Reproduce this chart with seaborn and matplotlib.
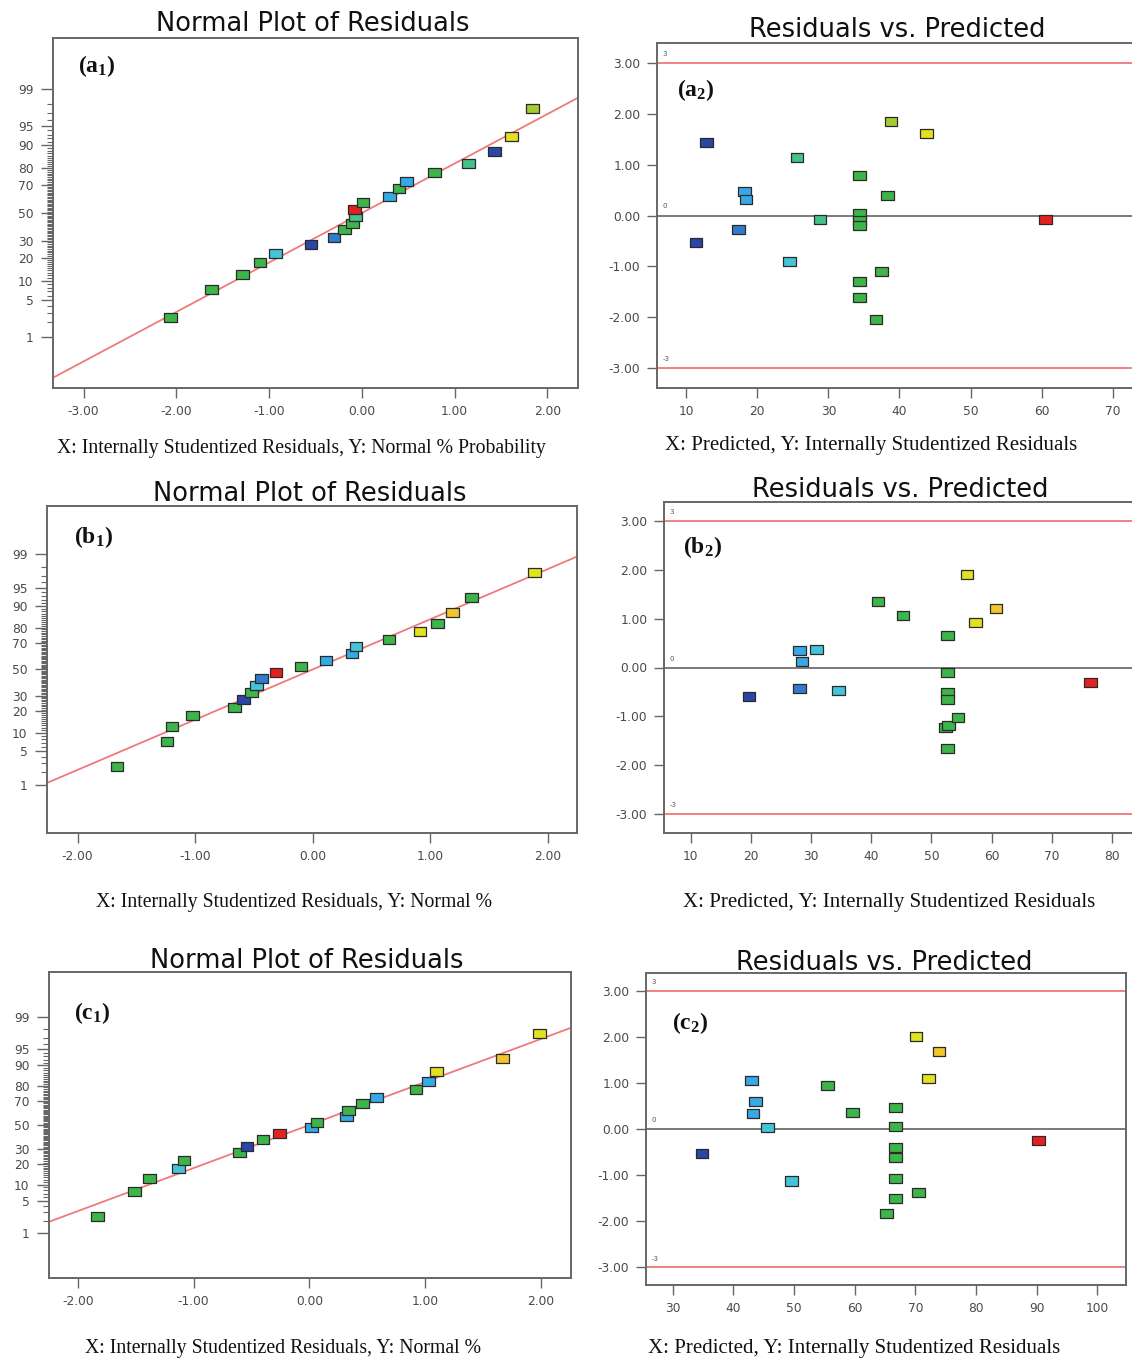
import numpy as np
import pandas as pd
import matplotlib
matplotlib.use("Agg")
import matplotlib.pyplot as plt
import seaborn as sns
from matplotlib.markers import MarkerStyle
from matplotlib.transforms import Affine2D
from matplotlib.ticker import FixedLocator, FixedFormatter
from statistics import NormalDist

# ---- data ----
# normal % probability of each ranked residual (same for every panel, n = 20)
norm_pct = [2.5, 7.5, 12.5, 17.5, 22.5, 27.5, 32.5, 37.5, 42.5, 47.5,
            52.5, 57.5, 62.5, 67.5, 72.5, 77.5, 82.5, 87.5, 92.5, 97.5]

# (a) normal plot residuals and colour group of each point
a_norm_x = [-2.06, -1.62, -1.29, -1.10, -0.93, -0.55, -0.30, -0.19, -0.10, -0.07,
            -0.08, 0.01, 0.30, 0.40, 0.48, 0.78, 1.15, 1.43, 1.61, 1.84]
a_norm_grp = ["green", "green", "green", "green", "cyan", "navy", "blue", "green", "green", "teal",
              "red", "green", "sky", "green", "sky", "green", "teal", "navy", "yellow", "lime"]
# (a) residuals vs predicted
a_pred = [12.9, 11.4, 17.4, 18.2, 18.4, 24.5, 25.6, 28.8, 34.4, 34.4,
          34.4, 34.4, 34.4, 34.4, 36.7, 37.5, 38.3, 38.8, 43.8, 60.5]
a_resid = [1.44, -0.54, -0.28, 0.48, 0.31, -0.91, 1.14, -0.07, 0.78, 0.03,
           -0.10, -0.20, -1.29, -1.62, -2.04, -1.10, 0.40, 1.84, 1.62, -0.07]
a_grp = ["navy", "navy", "blue", "sky", "sky", "cyan", "teal", "teal", "green", "green",
         "green", "green", "green", "green", "green", "green", "green", "lime", "yellow", "red"]

# (b)
b_norm_x = [-1.665, -1.24, -1.195, -1.02, -0.665, -0.59, -0.52, -0.475, -0.435, -0.31,
            -0.10, 0.115, 0.336, 0.368, 0.65, 0.914, 1.065, 1.19, 1.35, 1.89]
b_norm_grp = ["green", "green", "green", "green", "green", "navy", "green", "cyan", "blue", "red",
              "green", "sky", "sky", "cyan", "green", "yellow", "green", "gold", "green", "yellow"]
b_pred = [19.7, 28.1, 28.5, 28.1, 30.9, 34.6, 41.1, 45.3, 52.7, 52.7,
          52.7, 52.7, 52.3, 52.8, 54.4, 52.7, 55.9, 57.3, 60.7, 76.4]
b_resid = [-0.59, 0.35, 0.13, -0.42, 0.375, -0.47, 1.36, 1.07, 0.66, -0.095,
           -0.51, -0.65, -1.22, -1.19, -1.02, -1.66, 1.90, 0.93, 1.21, -0.30]
b_grp = ["navy", "sky", "sky", "blue", "cyan", "cyan", "green", "green", "green", "green",
         "green", "green", "green", "green", "green", "green", "yellow", "yellow", "gold", "red"]

# (c)
c_norm_x = [-1.83, -1.51, -1.38, -1.13, -1.085, -0.605, -0.54, -0.40, -0.26, 0.02,
            0.067, 0.32, 0.34, 0.46, 0.58, 0.92, 1.03, 1.10, 1.67, 1.99]
c_norm_grp = ["green", "green", "green", "cyan", "green", "green", "navy", "green", "red", "sky",
              "green", "sky", "green", "green", "sky", "green", "sky", "yellow", "gold", "yellow"]
c_pred = [34.8, 43.0, 43.6, 43.2, 45.6, 49.6, 55.5, 59.6, 66.7, 66.7,
          66.7, 66.7, 66.7, 66.7, 65.2, 70.5, 70.1, 73.9, 72.2, 90.3]
c_resid = [-0.54, 1.05, 0.59, 0.34, 0.03, -1.13, 0.94, 0.36, 0.47, 0.065,
           -0.41, -0.61, -1.08, -1.51, -1.83, -1.37, 2.00, 1.68, 1.10, -0.25]
c_grp = ["navy", "sky", "sky", "sky", "cyan", "cyan", "green", "green", "green", "green",
         "green", "green", "green", "green", "green", "green", "yellow", "gold", "yellow", "red"]

# fitted normal lines (z = slope * residual + intercept)
line_slope = [0.93, 1.01, 0.925]
line_intercept = [0.0, 0.0, 0.0]

panel_names = ["a", "b", "c"]
norm_xticks = [[-3, -2, -1, 0, 1, 2], [-2, -1, 0, 1, 2], [-2, -1, 0, 1, 2]]
pred_xticks = [[10, 20, 30, 40, 50, 60, 70], [10, 20, 30, 40, 50, 60, 70, 80],
               [30, 40, 50, 60, 70, 80, 90, 100]]
pct_ticks = [1, 5, 10, 20, 30, 50, 70, 80, 90, 95, 99]
resid_ticks = [-3, -2, -1, 0, 1, 2, 3]
limit_lines = [-3, 3]
caption_norm = ["X: Internally Studentized Residuals, Y: Normal % Probability",
                "X: Internally Studentized Residuals, Y: Normal %",
                "X: Internally Studentized Residuals, Y: Normal %"]
caption_pred = "X: Predicted, Y: Internally Studentized Residuals"

# ---- style ----
palette = {"navy": "#2b46a6", "blue": "#2f7ccc", "sky": "#36a9e6", "cyan": "#44c4d6",
           "teal": "#47c08a", "green": "#3db54a", "lime": "#a2cc31", "yellow": "#e2e222",
           "gold": "#f0c62a", "red": "#e3221f"}

sns.set_theme(style="ticks")
plt.rcParams["font.family"] = ["DejaVu Sans"]
plt.rcParams["mathtext.default"] = "regular"

W, H = 1132, 1359
fig = plt.figure(figsize=(W / 100, H / 100), dpi=100)


def px_box(left, top, right, bottom):
    return [left / W, 1 - bottom / H, (right - left) / W, (bottom - top) / H]


# axes boxes in pixels: left, top, right, bottom
norm_boxes = [(53, 38, 578, 388), (47, 506, 577, 833), (49, 972, 571, 1278)]
pred_boxes = [(657, 43, 1132, 388), (664, 502, 1132, 833), (646, 973, 1126, 1285)]
norm_xlims = [(-3.33, 2.33), (-2.26, 2.25), (-2.25, 2.26)]
pred_xlims = [(5.9, 72.7), (5.6, 83.3), (25.6, 104.7)]
title_pos_norm = [(313, 24), (310, 494), (307, 961)]
title_pos_pred = [(897, 30), (900, 490), (884, 963)]
cap_pos_norm = [(301, 448), (294, 902), (283, 1349)]
cap_pos_pred = [(871, 445), (889, 903), (854, 1348)]
lab_pos_norm = [(78, 66), (74, 537), (74, 1013)]
lab_pos_pred = [(677, 90), (683, 547), (672, 1023)]

serif = ["Liberation Serif", "DejaVu Serif"]
marker = MarkerStyle("s", transform=Affine2D().scale(1.4, 1.0))
nd = NormalDist()
_inv = np.frompyfunc(lambda p: nd.inv_cdf(min(max(float(p) / 100.0, 1e-9), 1 - 1e-9)), 1, 1)
_cdf = np.frompyfunc(lambda z: nd.cdf(float(z)) * 100.0, 1, 1)


def probit(p):
    p = np.asarray(p, dtype=float)
    return np.asarray(_inv(p), dtype=float) if p.size else p


def inv_probit(z):
    z = np.asarray(z, dtype=float)
    return np.asarray(_cdf(z), dtype=float) if z.size else z


spine_col = "#666666"
tick_col = "#4a4a4a"


def style_axes(ax):
    for sp in ax.spines.values():
        sp.set_color(spine_col)
        sp.set_linewidth(1.4)
    ax.tick_params(axis="both", which="major", length=7, width=1.0, color=spine_col,
                   labelsize=8.8, labelcolor=tick_col, pad=5)
    ax.set_xlabel("")
    ax.set_ylabel("")


def fig_text(pos, s, **kw):
    fig.text(pos[0] / W, 1 - pos[1] / H, s, **kw)


data = {
    "a": (a_norm_x, a_norm_grp, a_pred, a_resid, a_grp),
    "b": (b_norm_x, b_norm_grp, b_pred, b_resid, b_grp),
    "c": (c_norm_x, c_norm_grp, c_pred, c_resid, c_grp),
}

for i, name in enumerate(panel_names):
    nx, ngrp, pred, resid, grp = data[name]

    # ---- normal plot of residuals ----
    ax = fig.add_axes(px_box(*norm_boxes[i]))
    ax.set_yscale("function", functions=(probit, inv_probit))
    xl = norm_xlims[i]
    xs = np.linspace(xl[0], xl[1], 50)
    line_df = pd.DataFrame({"x": xs, "y": inv_probit(line_slope[i] * xs + line_intercept[i])})
    sns.lineplot(data=line_df, x="x", y="y", ax=ax, color="#f07a7a", linewidth=1.3)
    nd_df = pd.DataFrame({"resid": nx, "pct": norm_pct, "grp": ngrp})
    sns.scatterplot(data=nd_df, x="resid", y="pct", hue="grp", palette=palette, ax=ax,
                    marker=marker, s=42, edgecolor="#2a2a2a", linewidth=0.9,
                    legend=False, zorder=3)
    ax.set_xlim(*xl)
    ax.set_ylim(float(inv_probit(-3.29)), float(inv_probit(3.29)))
    ax.set_xticks(norm_xticks[i])
    ax.set_xticklabels([f"{v:.2f}" for v in norm_xticks[i]])
    ax.yaxis.set_major_locator(FixedLocator(pct_ticks))
    ax.yaxis.set_major_formatter(FixedFormatter([str(v) for v in pct_ticks]))
    ax.yaxis.set_minor_locator(FixedLocator([v for v in range(1, 100) if v not in pct_ticks]))
    ax.yaxis.set_minor_formatter(FixedFormatter([]))
    style_axes(ax)
    ax.tick_params(axis="y", which="major", length=9)
    ax.tick_params(axis="y", which="minor", length=4, width=0.8, color=spine_col)
    ax.tick_params(axis="x", which="minor", length=0)

    fig_text(title_pos_norm[i], "Normal Plot of Residuals", ha="center", va="center",
             fontsize=18.5, color="#111111")
    fig_text(cap_pos_norm[i], caption_norm[i], ha="center", va="center", fontsize=14.2,
             family=serif, color="#111111")
    fig_text(lab_pos_norm[i], f"({name}$_1$)", ha="left", va="center", fontsize=17,
             fontweight="bold", family=serif, color="#111111")

    # ---- residuals vs predicted ----
    ax2 = fig.add_axes(px_box(*pred_boxes[i]))
    for lv in limit_lines:
        ax2.axhline(lv, color="#ee7a7a", linewidth=1.3, zorder=1)
    ax2.axhline(0, color="#555555", linewidth=1.1, zorder=1)
    rp_df = pd.DataFrame({"pred": pred, "resid": resid, "grp": grp})
    sns.scatterplot(data=rp_df, x="pred", y="resid", hue="grp", palette=palette, ax=ax2,
                    marker=marker, s=42, edgecolor="#2a2a2a", linewidth=0.9,
                    legend=False, zorder=3)
    pl = pred_xlims[i]
    ax2.set_xlim(*pl)
    ax2.set_ylim(-3.39, 3.39)
    ax2.set_xticks(pred_xticks[i])
    ax2.set_xticklabels([str(v) for v in pred_xticks[i]])
    ax2.set_yticks(resid_ticks)
    ax2.set_yticklabels([f"{v:.2f}" for v in resid_ticks])
    style_axes(ax2)
    if i < 2:
        ax2.spines["right"].set_visible(False)
    small_x = pl[0] + (pl[1] - pl[0]) * 0.012
    for lv in limit_lines + [0]:
        ax2.text(small_x, lv + 0.12, str(lv), fontsize=5, color="#555555",
                 ha="left", va="bottom")

    fig_text(title_pos_pred[i], "Residuals vs. Predicted", ha="center", va="center",
             fontsize=18.5, color="#111111")
    fig_text(cap_pos_pred[i], caption_pred, ha="center", va="center", fontsize=15,
             family=serif, color="#111111")
    fig_text(lab_pos_pred[i], f"({name}$_2$)", ha="left", va="center", fontsize=17,
             fontweight="bold", family=serif, color="#111111")

fig.savefig("out.png", dpi=100, facecolor="white")
